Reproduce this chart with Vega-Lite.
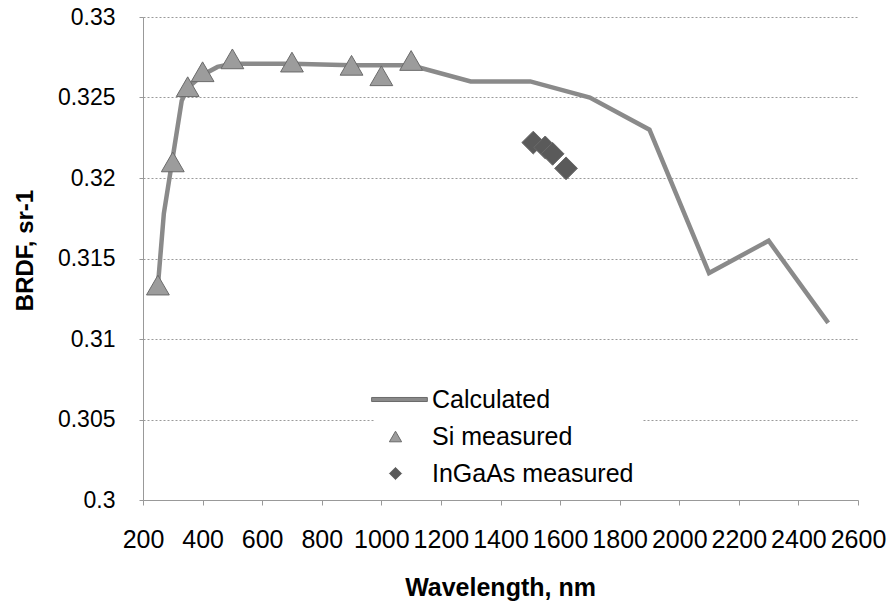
{
  "$schema": "https://vega.github.io/schema/vega-lite/v6.json",
  "width": 715,
  "height": 483,
  "autosize": {"type": "none"},
  "padding": {"left": 143, "top": 17, "right": 33, "bottom": 106},
  "background": "white",
  "config": {
    "font": "Liberation Sans",
    "view": {"stroke": null},
    "axis": {"labelColor": "black", "titleColor": "black", "labelFont": "Liberation Sans", "titleFont": "Liberation Sans"}
  },
  "datasets": {
    "calc": [
      {"wl": 250, "brdf": 0.3133},
      {"wl": 270, "brdf": 0.3178},
      {"wl": 300, "brdf": 0.3213},
      {"wl": 330, "brdf": 0.3248},
      {"wl": 350, "brdf": 0.3256},
      {"wl": 400, "brdf": 0.3264},
      {"wl": 450, "brdf": 0.3269},
      {"wl": 500, "brdf": 0.3271},
      {"wl": 700, "brdf": 0.3271},
      {"wl": 900, "brdf": 0.3270},
      {"wl": 1100, "brdf": 0.3270},
      {"wl": 1300, "brdf": 0.3260},
      {"wl": 1500, "brdf": 0.3260},
      {"wl": 1700, "brdf": 0.3250},
      {"wl": 1900, "brdf": 0.3230},
      {"wl": 2100, "brdf": 0.3141},
      {"wl": 2300, "brdf": 0.3161},
      {"wl": 2500, "brdf": 0.3110}
    ],
    "meas": [
      {"wl": 250, "brdf": 0.31335, "series": "Si measured"},
      {"wl": 300, "brdf": 0.3210, "series": "Si measured"},
      {"wl": 350, "brdf": 0.32567, "series": "Si measured"},
      {"wl": 400, "brdf": 0.3266, "series": "Si measured"},
      {"wl": 500, "brdf": 0.3274, "series": "Si measured"},
      {"wl": 700, "brdf": 0.3272, "series": "Si measured"},
      {"wl": 900, "brdf": 0.3270, "series": "Si measured"},
      {"wl": 1000, "brdf": 0.32635, "series": "Si measured"},
      {"wl": 1100, "brdf": 0.3273, "series": "Si measured"},
      {"wl": 1510, "brdf": 0.3222, "series": "InGaAs measured"},
      {"wl": 1550, "brdf": 0.3219, "series": "InGaAs measured"},
      {"wl": 1575, "brdf": 0.3215, "series": "InGaAs measured"},
      {"wl": 1620, "brdf": 0.3206, "series": "InGaAs measured"}
    ]
  },
  "layer": [
    {
      "data": {"name": "calc"},
      "mark": {"type": "line", "color": "#8a8a8a", "strokeWidth": 4.5, "strokeJoin": "miter"},
      "encoding": {
        "x": {
          "field": "wl", "type": "quantitative",
          "scale": {"domain": [200, 2600], "nice": false, "zero": false},
          "axis": {
            "title": "Wavelength, nm",
            "values": [200, 400, 600, 800, 1000, 1200, 1400, 1600, 1800, 2000, 2200, 2400, 2600],
            "format": "d",
            "grid": false,
            "labelFontSize": 25,
            "labelOverlap": false,
            "labelFlush": false,
            "labelPadding": 22,
            "tickSize": 5,
            "tickColor": "#999999",
            "domainColor": "#999999",
            "titleFontSize": 25,
            "titleFontWeight": "bold",
            "titleBaseline": "alphabetic",
            "titleY": 95,
            "titleX": 357,
            "titleAnchor": "middle",
            "titleAlign": "center"
          }
        },
        "y": {
          "field": "brdf", "type": "quantitative",
          "scale": {"domain": [0.3, 0.33], "nice": false, "zero": false},
          "axis": {
            "title": "BRDF, sr-1",
            "values": [0.3, 0.305, 0.31, 0.315, 0.32, 0.325, 0.33],
            "format": "~g",
            "grid": true,
            "gridColor": "#9a9a9a",
            "gridDash": [2, 2],
            "gridWidth": 1,
            "labelFontSize": 23,
            "labelPadding": 24,
            "tickSize": 4,
            "tickColor": "#999999",
            "domainColor": "#999999",
            "titleFontSize": 24,
            "titleFontWeight": "bold",
            "titleAngle": -90,
            "titleBaseline": "alphabetic",
            "titleAlign": "center",
            "titleX": -111,
            "titleY": 233
          }
        }
      }
    },
    {
      "data": {"name": "meas"},
      "mark": {"type": "point", "filled": true, "size": 520, "opacity": 1, "stroke": "#6a6a6a", "strokeWidth": 1},
      "encoding": {
        "x": {"field": "wl", "type": "quantitative"},
        "y": {"field": "brdf", "type": "quantitative"},
        "color": {
          "field": "series", "type": "nominal",
          "scale": {"domain": ["Calculated", "Si measured", "InGaAs measured"], "range": ["#8a8a8a", "#9c9c9c", "#5a5a5a"]},
          "legend": {
            "title": null,
            "orient": "none",
            "legendX": 232,
            "legendY": 362,
            "fillColor": "white",
            "padding": 8,
            "labelFontSize": 25,
            "labelColor": "black",
            "labelLimit": 0,
            "labelOffset": 24,
            "rowPadding": 11,
            "symbolSize": 150,
            "symbolStrokeWidth": 1
          }
        },
        "shape": {
          "field": "series", "type": "nominal",
          "scale": {"domain": ["Calculated", "Si measured", "InGaAs measured"], "range": ["M-3.9,-0.33H5.2V0.33H-3.9Z", "triangle-up", "diamond"]},
          "legend": {
            "title": null,
            "orient": "none",
            "legendX": 232,
            "legendY": 362,
            "fillColor": "white",
            "padding": 8,
            "labelFontSize": 25,
            "labelColor": "black",
            "labelLimit": 0,
            "labelOffset": 24,
            "rowPadding": 11,
            "symbolSize": 150,
            "symbolStrokeWidth": 1
          }
        }
      }
    }
  ]
}
